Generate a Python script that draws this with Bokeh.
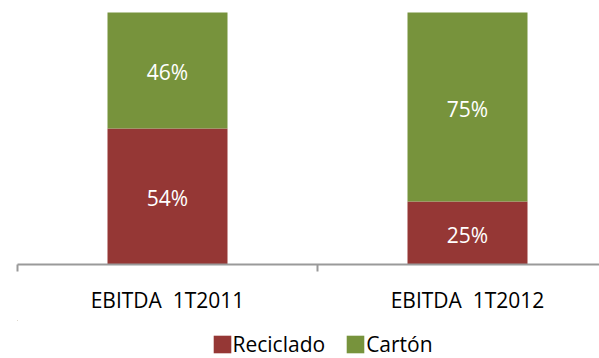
from bokeh.plotting import figure
from bokeh.layouts import column
from bokeh.models import (ColumnDataSource, Range1d, FixedTicker, LinearAxis,
                          Legend, LegendItem)
from bokeh.core.properties import value
from bokeh.embed import file_html
from bokeh.resources import INLINE

categories = ["EBITDA \u00a01T2011", "EBITDA \u00a01T2012"]
series = ["Reciclado", "Cartón"]
reciclado = [54, 25]
carton = [46, 75]
colors = ["#953735", "#77933C"]

FONT = "Open Sans"

xs = [i + 0.5 for i in range(len(categories))]
src = ColumnDataSource(dict(x=xs, Reciclado=reciclado, Cartón=carton))

p = figure(width=599, height=320, output_backend="svg",
           toolbar_location=None, x_axis_location=None, y_axis_location=None,
           x_range=Range1d(0, 1.94), y_range=Range1d(0, 100 * 264 / 252),
           min_border_left=17, min_border_right=0, min_border_top=0,
           min_border_bottom=56)
p.outline_line_color = None
p.xgrid.visible = False
p.ygrid.visible = False
p.background_fill_color = "white"
p.border_fill_color = "white"

rs = p.vbar_stack(series, x="x", width=0.4, color=colors, line_color=None,
                  source=src)

# segment labels
lx, ly, lt = [], [], []
for i in range(len(categories)):
    base = 0
    for vals in (reciclado, carton):
        v = vals[i]
        lx.append(xs[i])
        ly.append(base + v / 2)
        lt.append(f"{v}%")
        base += v
p.text(x=lx, y=ly, text=lt, text_color="white", text_font=value(FONT),
       text_font_size="21px", text_align="center", text_baseline="middle",
       y_offset=2)

ax = LinearAxis(ticker=FixedTicker(ticks=xs, minor_ticks=list(range(len(categories) + 1))))
ax.major_label_overrides = {x: c for x, c in zip(xs, categories)}
ax.axis_line_color = "#9a9a9a"
ax.axis_line_width = 2
ax.major_tick_line_color = None
ax.major_tick_out = 0
ax.major_tick_in = 0
ax.minor_tick_line_color = "#9a9a9a"
ax.minor_tick_line_width = 2
ax.minor_tick_out = 7
ax.minor_tick_in = 0
ax.major_label_standoff = 14
ax.major_label_text_font = FONT
ax.major_label_text_font_size = "21px"
ax.major_label_text_color = "black"
p.add_layout(ax, "below")

# legend strip below the chart (its bars lie far outside its view; only the legend shows)
lf = figure(width=599, height=38, output_backend="svg", toolbar_location=None,
            x_axis_location=None, y_axis_location=None,
            x_range=Range1d(100, 101), y_range=Range1d(-1000, -999),
            min_border_left=0, min_border_right=0, min_border_top=0,
            min_border_bottom=0)
lf.outline_line_color = None
lf.xgrid.visible = False
lf.ygrid.visible = False
lrs = lf.vbar_stack(series, x="x", width=0.4, color=colors, line_color=None,
                    source=src)

legend = Legend(items=[LegendItem(label=s, renderers=[r]) for s, r in zip(series, lrs)],
                orientation="horizontal", location=(193.5, 0),
                glyph_width=22, glyph_height=22, label_standoff=0, spacing=19,
                padding=0, margin=0, border_line_color=None,
                background_fill_alpha=0, label_text_font=FONT,
                label_text_font_size="21px", label_text_color="black")
lf.add_layout(legend, "center")

open("out.html", "w").write(file_html(column(p, lf, spacing=0), INLINE))
